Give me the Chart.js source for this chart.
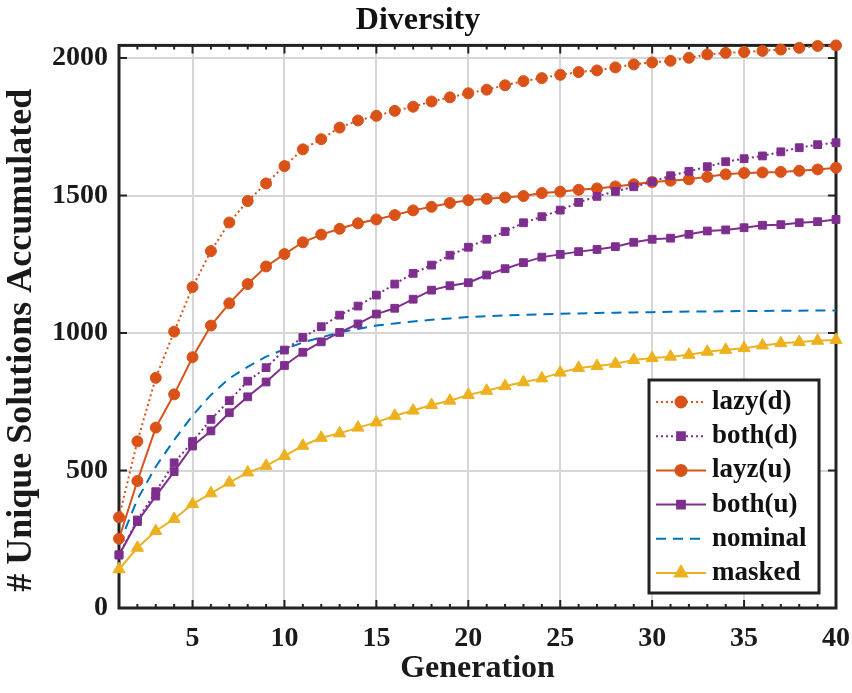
<!DOCTYPE html>
<html>
<head>
<meta charset="utf-8">
<script src="https://cdn.jsdelivr.net/npm/chart.js@4/dist/chart.umd.min.js"></script>
<style>
  body { margin: 0; background: #fff; }
  #wrap { width: 852px; height: 693px; }
</style>
</head>
<body>
<div id="wrap"><canvas id="diversityChart"></canvas></div>
<script>
const generations = Array.from({ length: 40 }, (_, i) => i + 1);
const xTicks = [5, 10, 15, 20, 25, 30, 35, 40];
const yTicks = [0, 500, 1000, 1500, 2000];

const lazyD = [330, 606, 837, 1005, 1167, 1298, 1402, 1480, 1544, 1607,
    1668, 1705, 1747, 1773, 1790, 1808, 1823, 1842, 1857, 1872,
    1885, 1901, 1916, 1927, 1939, 1949, 1955, 1966, 1977, 1984,
    1990, 2001, 2013, 2019, 2022, 2026, 2031, 2037, 2044, 2046];
const bothD = [193, 320, 423, 528, 605, 686, 754, 825, 874, 938,
    984, 1023, 1065, 1098, 1138, 1178, 1217, 1247, 1283, 1312,
    1341, 1369, 1401, 1423, 1447, 1475, 1497, 1515, 1532, 1550,
    1572, 1588, 1605, 1623, 1634, 1644, 1659, 1674, 1685, 1692];
const layzU = [252, 462, 656, 777, 912, 1027, 1108, 1178, 1242, 1287,
    1330, 1358, 1379, 1399, 1413, 1429, 1446, 1459, 1473, 1483,
    1488, 1493, 1498, 1509, 1514, 1521, 1526, 1533, 1541, 1549,
    1554, 1559, 1568, 1577, 1582, 1584, 1586, 1590, 1595, 1601];
const bothU = [193, 314, 407, 496, 589, 644, 710, 768, 822, 882,
    930, 968, 1002, 1033, 1069, 1090, 1123, 1156, 1172, 1183,
    1211, 1234, 1256, 1276, 1286, 1296, 1304, 1314, 1330, 1341,
    1345, 1359, 1371, 1375, 1383, 1392, 1394, 1401, 1405, 1413];
const nominal = [230, 395, 514, 611, 700, 775, 835, 877, 914, 941,
    966, 984, 1002, 1015, 1027, 1035, 1042, 1048, 1053, 1058,
    1061, 1064, 1066, 1068, 1070, 1071, 1073, 1074, 1075, 1076,
    1077, 1078, 1078, 1079, 1080, 1080, 1081, 1081, 1082, 1082];
const masked = [141, 219, 280, 324, 378, 417, 456, 493, 517, 553,
    590, 619, 635, 656, 675, 699, 718, 738, 754, 775,
    790, 807, 821, 835, 856, 873, 880, 888, 902, 909,
    914, 921, 932, 939, 945, 955, 963, 967, 972, 975];

const ORANGE = '#D95319';
const PURPLE = '#7E2F8E';
const BLUE = '#0072BD';
const YELLOW = '#EDB120';

Chart.defaults.font.family = '"Liberation Serif", "Times New Roman", serif';
Chart.defaults.font.weight = 'bold';
Chart.defaults.color = '#1a1a1a';

function toPoints(values) {
    return values.map((v, i) => ({ x: generations[i], y: v }));
}

function series(label, values, color, dash, pointStyle, radius) {
    return {
        label: label,
        data: toPoints(values),
        borderColor: color,
        backgroundColor: color,
        borderWidth: 2,
        borderDash: dash,
        pointStyle: pointStyle,
        pointRadius: radius,
        pointBorderWidth: 1,
        tension: 0,
        clip: false
    };
}

// box + inward ticks like the original figure
const framePlugin = {
    id: 'frame',
    beforeDatasetsDraw(chart) {
        const { ctx, chartArea: a, scales: { x, y } } = chart;
        ctx.save();
        ctx.strokeStyle = '#222';
        ctx.lineWidth = 2;
        ctx.beginPath();
        generations.forEach(g => {
            const px = x.getPixelForValue(g);
            const len = g % 5 === 0 ? 8 : 4;
            ctx.moveTo(px, a.bottom);
            ctx.lineTo(px, a.bottom - len);
            ctx.moveTo(px, a.top);
            ctx.lineTo(px, a.top + len);
        });
        yTicks.forEach(v => {
            const py = y.getPixelForValue(v);
            ctx.moveTo(a.left, py);
            ctx.lineTo(a.left + 8, py);
            ctx.moveTo(a.right, py);
            ctx.lineTo(a.right - 8, py);
        });
        ctx.stroke();
        ctx.lineWidth = 3;
        ctx.strokeRect(a.left, a.top, a.right - a.left, a.bottom - a.top);
        ctx.restore();
    }
};

const legendPlugin = {
    id: 'boxLegend',
    afterDraw(chart) {
        const { ctx, chartArea: a } = chart;
        const bw = 170, bh = 213;
        const bx = a.right - 17 - bw;
        const by = a.bottom - 15 - bh;
        ctx.save();
        ctx.fillStyle = '#fff';
        ctx.fillRect(bx, by, bw, bh);
        ctx.strokeStyle = '#222';
        ctx.lineWidth = 3;
        ctx.strokeRect(bx, by, bw, bh);

        chart.data.datasets.forEach((ds, i) => {
            const cy = by + 22 + i * 34.2;
            ctx.strokeStyle = ds.borderColor;
            ctx.lineWidth = 2;
            ctx.setLineDash(ds.borderDash || []);
            ctx.beginPath();
            ctx.moveTo(bx + 7, cy);
            ctx.lineTo(bx + 57, cy);
            ctx.stroke();
            ctx.setLineDash([]);
            if (ds.pointRadius > 0) {
                ctx.fillStyle = ds.backgroundColor;
                Chart.helpers.drawPoint(ctx, {
                    pointStyle: ds.pointStyle,
                    radius: ds.pointRadius,
                    rotation: 0,
                    borderWidth: 1
                }, bx + 32, cy);
            }
            ctx.fillStyle = '#111';
            ctx.font = 'bold 27px "Liberation Serif", serif';
            ctx.textBaseline = 'middle';
            ctx.textAlign = 'left';
            ctx.fillText(ds.label, bx + 63, cy);
        });
        ctx.restore();
    }
};

const ctx = document.getElementById('diversityChart').getContext('2d');

const diversityChart = new Chart(ctx, {
    type: 'line',
    data: {
        datasets: [
            series('lazy(d)', lazyD, ORANGE, [2, 3], 'circle', 5.5),
            series('both(d)', bothD, PURPLE, [2, 3], 'rect', 5.5),
            series('layz(u)', layzU, ORANGE, [], 'circle', 5.5),
            series('both(u)', bothU, PURPLE, [], 'rect', 5.5),
            series('nominal', nominal, BLUE, [10, 7], false, 0),
            series('masked', masked, YELLOW, [], 'triangle', 7)
        ]
    },
    options: {
        responsive: true,
        maintainAspectRatio: false,
        animation: false,
        events: [],
        layout: {
            padding: { left: 0, right: 16, top: 0, bottom: 0 }
        },
        plugins: {
            legend: { display: false },
            tooltip: { enabled: false },
            title: {
                display: true,
                text: 'Diversity',
                color: '#111',
                font: { size: 32, weight: 'bold' },
                padding: { top: 2, bottom: 5 }
            }
        },
        scales: {
            x: {
                type: 'linear',
                min: 1,
                max: 40,
                afterBuildTicks: scale => {
                    scale.ticks = xTicks.map(v => ({ value: v }));
                },
                afterFit: scale => {
                    scale.height = 85;
                    scale.paddingLeft = 0;
                    scale.paddingRight = 0;
                },
                grid: {
                    color: '#d6d6d6',
                    lineWidth: 2,
                    drawTicks: false
                },
                border: { display: false },
                ticks: {
                    font: { size: 28, weight: 'bold' },
                    padding: 14,
                    maxRotation: 0,
                    callback: v => String(v)
                },
                title: {
                    display: true,
                    text: 'Generation',
                    font: { size: 32, weight: 'bold' },
                    padding: { top: 0, bottom: 5 }
                }
            },
            y: {
                min: 0,
                max: 2046,
                afterBuildTicks: scale => {
                    scale.ticks = yTicks.map(v => ({ value: v }));
                },
                afterFit: scale => {
                    scale.width = 119;
                    scale.paddingTop = 0;
                    scale.paddingBottom = 0;
                },
                grid: {
                    color: '#d6d6d6',
                    lineWidth: 2,
                    drawTicks: false
                },
                border: { display: false },
                ticks: {
                    font: { size: 28, weight: 'bold' },
                    padding: 11,
                    callback: v => String(v)
                },
                title: {
                    display: true,
                    // trailing spaces nudge the label down like the original
                    text: '# Unique Solutions Accumulated\u00A0\u00A0\u00A0',
                    font: { size: 36, weight: 'bold' },
                    padding: { top: 0, bottom: 0 }
                }
            }
        }
    },
    plugins: [framePlugin, legendPlugin]
});
</script>
</body>
</html>
